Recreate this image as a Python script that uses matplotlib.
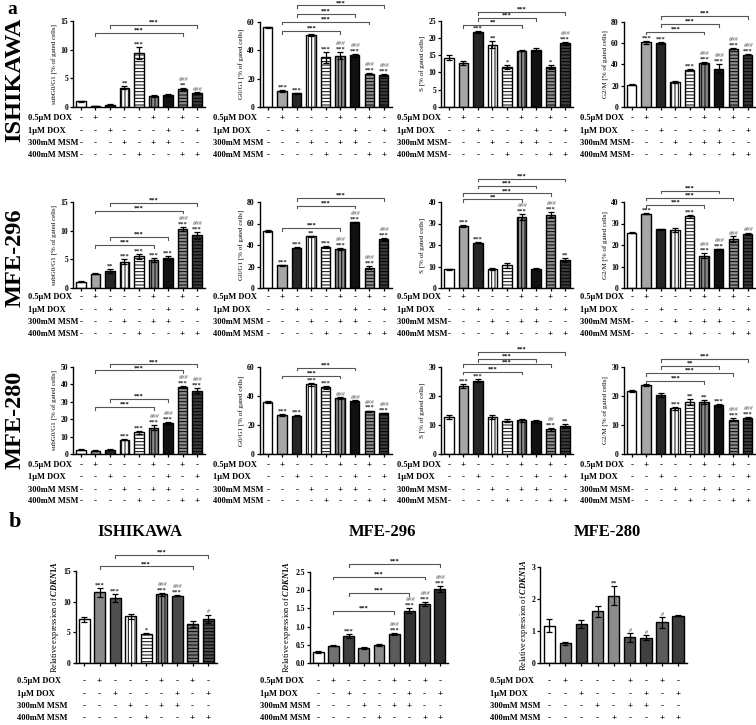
import matplotlib
matplotlib.use('Agg')
import matplotlib.pyplot as plt
from matplotlib.transforms import blended_transform_factory
import numpy as np

plt.rcParams['font.family'] = 'Liberation Serif'
plt.rcParams['font.weight'] = 'bold'
plt.rcParams['hatch.linewidth'] = 0.7
plt.rcParams['mathtext.fontset'] = 'custom'
plt.rcParams['mathtext.it'] = 'Liberation Serif:italic:bold'
plt.rcParams['mathtext.rm'] = 'Liberation Serif:bold'

W, H = 756, 725

# treatment table, 1 = "+", 0 = "-"
row_names = ['0.5\u00b5M DOX', '1\u00b5M DOX', '300mM MSM', '400mM MSM']
dox05 = [0, 1, 0, 0, 0, 1, 0, 1, 0]
dox1 = [0, 0, 1, 0, 0, 0, 1, 0, 1]
msm300 = [0, 0, 0, 1, 0, 1, 1, 0, 0]
msm400 = [0, 0, 0, 0, 1, 0, 0, 1, 1]
treatments = [dox05, dox1, msm300, msm400]

cell_lines = ['ISHIKAWA', 'MFE-296', 'MFE-280']
phase_labels = ['subG0/G1 [% of gated cells]', 'G0/G1 [% of gated cells]',
                'S [% of gated cells]', 'G2/M [% of gated cells]']

# ---- a: ISHIKAWA ----
ishi_sub = [1.0, 0.2, 0.4, 3.4, 9.4, 1.9, 2.1, 3.2, 2.4]
ishi_sub_err = [0.1, 0.05, 0.1, 0.2, 1.0, 0.15, 0.2, 0.15, 0.2]
ishi_sub_stars = ['', '', '', '**', '***', '', '', '**', '']
ishi_sub_hash = ['', '', '', '', '', '', '', '###', '###']
ishi_sub_brk = [(1, 7, '***', 0.86), (2, 8, '***', 0.95)]

ishi_g0 = [56, 11.5, 9.5, 50.5, 35, 36, 36.5, 23.5, 22.5]
ishi_g0_err = [0.5, 0.6, 0.5, 0.5, 4, 2.5, 1, 0.5, 0.6]
ishi_g0_stars = ['', '***', '***', '', '***', '***', '***', '***', '***']
ishi_g0_hash = ['', '', '', '', '', '###', '###', '###', '###']
ishi_g0_brk = [(1, 5, '***', 0.89), (1, 7, '***', 1.0), (2, 6, '***', 1.09), (2, 8, '***', 1.19)]

ishi_s = [14.3, 12.8, 21.8, 18.1, 11.7, 16.3, 16.6, 11.6, 18.4]
ishi_s_err = [0.7, 0.5, 0.3, 0.9, 0.6, 0.15, 0.4, 0.5, 0.5]
ishi_s_stars = ['', '', '***', '**', '*', '', '', '*', '***']
ishi_s_hash = ['', '', '', '', '', '', '', '', '###']
ishi_s_brk = [(1, 5, '**', 0.95), (2, 6, '***', 1.03), (2, 8, '***', 1.10)]

ishi_g2 = [21, 60.5, 60, 23.5, 35, 41.5, 36, 54.5, 49]
ishi_g2_err = [0.5, 1.5, 1, 1, 0.5, 1, 4, 0.5, 0.5]
ishi_g2_stars = ['', '***', '***', '', '***', '***', '***', '***', '***']
ishi_g2_hash = ['', '', '', '', '', '###', '###', '###', '###']
ishi_g2_brk = [(1, 5, '***', 0.88), (2, 6, '***', 0.97), (2, 8, '***', 1.067)]

# ---- a: MFE-296 ----
m296_sub = [1.1, 2.5, 3.0, 4.6, 5.5, 4.9, 5.2, 10.3, 9.2]
m296_sub_err = [0.1, 0.1, 0.3, 0.4, 0.4, 0.4, 0.3, 0.3, 0.6]
m296_sub_stars = ['', '', '**', '***', '***', '***', '***', '***', '***']
m296_sub_hash = ['', '', '', '', '', '', '', '###', '###']
m296_sub_brk = [(1, 5, '***', 0.5), (2, 6, '***', 0.59), (1, 7, '***', 0.90), (2, 8, '***', 0.985)]

m296_g0 = [53, 21, 37.5, 48, 38.5, 36, 61, 19, 45.5]
m296_g0_err = [0.5, 0.7, 0.6, 0.5, 1, 1, 0.6, 1.5, 1]
m296_g0_stars = ['', '***', '***', '**', '***', '***', '***', '***', '***']
m296_g0_hash = ['', '', '', '', '', '###', '###', '###', '###']
m296_g0_brk = [(1, 5, '***', 0.694), (2, 6, '***', 0.957), (2, 8, '***', 1.043)]

m296_s = [8.7, 28.8, 21, 9, 10.5, 33, 9, 34, 13]
m296_s_err = [0.3, 0.4, 0.3, 0.4, 1, 1.2, 0.3, 1.2, 1]
m296_s_stars = ['', '***', '***', '', '', '***', '', '***', '**']
m296_s_hash = ['', '', '', '', '', '###', '', '###', '']
m296_s_brk = [(1, 5, '**', 1.03), (1, 7, '***', 1.10), (2, 6, '***', 1.19), (2, 8, '***', 1.27)]

m296_g2 = [25.8, 34.5, 27.3, 27, 33.3, 15, 18, 22.8, 25.2]
m296_g2_err = [0.3, 0.3, 0.3, 1, 0.8, 1.2, 0.3, 1.2, 0.5]
m296_g2_stars = ['', '***', '', '', '***', '***', '***', '', '']
m296_g2_hash = ['', '', '', '', '', '###', '###', '###', '###']
m296_g2_brk = [(1, 5, '***', 0.965), (1, 7, '***', 1.05), (2, 6, '***', 1.13)]

# ---- a: MFE-280 ----
m280_sub = [2.5, 2.0, 2.5, 8.2, 12.5, 15.2, 17.8, 38.5, 36.3]
m280_sub_err = [0.3, 0.2, 0.3, 0.4, 0.8, 1.5, 0.5, 0.7, 1.5]
m280_sub_stars = ['', '', '', '***', '***', '***', '***', '***', '***']
m280_sub_hash = ['', '', '', '', '', '###', '###', '###', '###']
m280_sub_brk = [(1, 5, '***', 0.54), (2, 6, '***', 0.63), (1, 7, '***', 0.96), (2, 8, '***', 1.03)]

m280_g0 = [36, 27, 26.5, 48, 46, 38.5, 36.5, 29.5, 28]
m280_g0_err = [0.5, 0.6, 0.5, 1.2, 1, 0.6, 0.5, 0.5, 0.5]
m280_g0_stars = ['', '***', '***', '***', '***', '', '', '***', '***']
m280_g0_hash = ['', '', '', '', '', '###', '###', '###', '###']
m280_g0_brk = [(1, 5, '***', 0.90), (2, 6, '***', 0.99)]

m280_s = [12.8, 23.5, 25.3, 12.8, 11.5, 11.7, 11.3, 8.5, 9.7]
m280_s_err = [0.7, 0.6, 0.6, 0.8, 0.5, 0.5, 0.5, 0.4, 0.5]
m280_s_stars = ['', '***', '***', '', '', '', '', '***', '**']
m280_s_hash = ['', '', '', '', '', '', '', '##', '']
m280_s_brk = [(1, 5, '***', 0.946), (1, 7, '***', 1.03), (2, 6, '***', 1.09), (2, 8, '***', 1.17)]

m280_g2 = [21.8, 23.8, 20.3, 15.7, 17.9, 17.9, 16.8, 11.8, 12.4]
m280_g2_err = [0.3, 0.4, 0.8, 0.6, 1.1, 0.6, 0.6, 0.5, 0.3]
m280_g2_stars = ['', '', '', '***', '**', '**', '***', '***', '***']
m280_g2_hash = ['', '', '', '', '', '', '', '###', '###']
m280_g2_brk = [(1, 5, '***', 0.84), (1, 7, '***', 0.93), (2, 6, '**', 1.01), (2, 8, '***', 1.09)]

# ---- b: CDKN1A ----
cdk_ishi = [7.1, 11.5, 10.6, 7.6, 4.8, 11.2, 11.0, 6.3, 7.2]
cdk_ishi_err = [0.4, 0.7, 0.6, 0.4, 0.15, 0.2, 0.15, 0.5, 0.7]
cdk_ishi_stars = ['', '***', '***', '', '*', '***', '***', '', '']
cdk_ishi_hash = ['', '', '', '', '', '###', '###', '', '#']
cdk_ishi_brk = [(1, 7, '***', 1.05), (2, 8, '***', 1.17)]

cdk_296 = [0.3, 0.48, 0.75, 0.42, 0.49, 0.79, 1.43, 1.62, 2.03]
cdk_296_err = [0.02, 0.02, 0.06, 0.03, 0.02, 0.03, 0.07, 0.05, 0.09]
cdk_296_stars = ['', '', '***', '', '', '***', '***', '***', '***']
cdk_296_hash = ['', '', '', '', '', '###', '###', '###', '###']
cdk_296_brk = [(1, 5, '***', 0.57), (2, 6, '***', 0.766), (1, 7, '***', 0.95), (2, 8, '***', 1.09)]

cdk_280 = [1.17, 0.62, 1.22, 1.62, 2.1, 0.8, 0.79, 1.27, 1.48]
cdk_280_err = [0.2, 0.05, 0.12, 0.17, 0.3, 0.13, 0.07, 0.17, 0.02]
cdk_280_stars = ['', '', '', '', '**', '', '', '', '']
cdk_280_hash = ['', '', '', '', '', '#', '#', '#', '']
cdk_280_brk = []

# bar looks (face colour, hatch)
style_a = [('white', ''), ('#a6a6a6', ''), ('#262626', ''), ('white', '|||||'),
           ('white', '-----'), ('#8c8c8c', '|||||'), ('#111111', ''),
           ('#8c8c8c', '-----'), ('#3a3a3a', '-----')]
style_b1 = [('white', ''), ('#8a8a8a', ''), ('#505050', ''), ('white', '|||||'),
            ('white', '-----'), ('#8a8a8a', '|||||'), ('#4a4a4a', ''),
            ('#7a7a7a', '-----'), ('#4a4a4a', '-----')]
style_b2 = [('white', ''), ('#707070', ''), ('#404040', ''), ('#7c7c7c', ''),
            ('#8c8c8c', ''), ('#5a5a5a', ''), ('#333333', ''), ('#4c4c4c', ''),
            ('#2e2e2e', '')]
style_b3 = [('white', ''), ('#707070', ''), ('#404040', ''), ('#7c7c7c', ''),
            ('#8c8c8c', ''), ('#505050', ''), ('#404040', ''), ('#5c5c5c', ''),
            ('#3c3c3c', '')]

fig = plt.figure(figsize=(W / 100, H / 100), dpi=100)


def px_axes(left, top, right, bottom):
    return fig.add_axes([left / W, 1 - bottom / H, (right - left) / W, (bottom - top) / H])


def draw_panel(ax, means, errs, stars, hashes, brks, styles, ymax, ystep, ylabel,
               width=0.65, ylabel_size=5):
    x = np.arange(len(means))
    for k in range(len(means)):
        fc, hatch = styles[k]
        ax.bar(x[k], means[k], width=width, color=fc, edgecolor='black',
               hatch=hatch, linewidth=1.0, zorder=2)
    ax.errorbar(x, means, yerr=errs, fmt='none', ecolor='black', elinewidth=0.9,
                capsize=2, capthick=0.9, zorder=3)
    for k in range(len(means)):
        top = means[k] + errs[k]
        off = 0.3
        if stars[k]:
            ax.annotate(stars[k], (k, top), xytext=(0, off), textcoords='offset points',
                        ha='center', va='bottom', fontsize=4.6, color='#222222')
            off += 4.0
        if hashes[k]:
            ax.annotate(hashes[k], (k, top), xytext=(0, off), textcoords='offset points',
                        ha='center', va='bottom', fontsize=4.6, color='#808080',
                        style='italic')
    trans = blended_transform_factory(ax.transData, ax.transAxes)
    for i, j, lab, yf in brks:
        ax.plot([i, i, j, j], [yf - 0.03, yf, yf, yf - 0.03], transform=trans,
                color='#555555', lw=0.8, clip_on=False)
        ax.text((i + j) / 2, yf + 0.003, lab, transform=trans, ha='center',
                va='bottom', fontsize=4.6)
    ax.set_xlim(-0.55, len(means) - 0.45)
    ax.set_ylim(0, ymax)
    ax.set_yticks(np.arange(0, ymax + ystep / 2, ystep))
    ax.set_xticks(x)
    ax.set_xticklabels([])
    ax.spines['top'].set_visible(False)
    ax.spines['right'].set_visible(False)
    for sp in ['left', 'bottom']:
        ax.spines[sp].set_linewidth(1.0)
    ax.tick_params(axis='both', length=2.5, width=0.9, pad=1, labelsize=5.5)
    ax.set_ylabel(ylabel, fontsize=ylabel_size, labelpad=1.5)


def draw_table(ax, label_x, rows_y, size=6.5):
    trans = blended_transform_factory(ax.transData, fig.transFigure)
    for name, flags, ypx in zip(row_names, treatments, rows_y):
        y = 1 - ypx / H
        fig.text(label_x / W, y, name, ha='left', va='center', fontsize=6)
        for k, f in enumerate(flags):
            ax.text(k, y, '+' if f else '-', transform=trans, ha='center',
                    va='center', fontsize=size)


# ---- panel a layout ----
a_data = [
    [(ishi_sub, ishi_sub_err, ishi_sub_stars, ishi_sub_hash, ishi_sub_brk, 15, 5),
     (ishi_g0, ishi_g0_err, ishi_g0_stars, ishi_g0_hash, ishi_g0_brk, 60, 20),
     (ishi_s, ishi_s_err, ishi_s_stars, ishi_s_hash, ishi_s_brk, 25, 5),
     (ishi_g2, ishi_g2_err, ishi_g2_stars, ishi_g2_hash, ishi_g2_brk, 80, 20)],
    [(m296_sub, m296_sub_err, m296_sub_stars, m296_sub_hash, m296_sub_brk, 15, 5),
     (m296_g0, m296_g0_err, m296_g0_stars, m296_g0_hash, m296_g0_brk, 80, 20),
     (m296_s, m296_s_err, m296_s_stars, m296_s_hash, m296_s_brk, 40, 10),
     (m296_g2, m296_g2_err, m296_g2_stars, m296_g2_hash, m296_g2_brk, 40, 10)],
    [(m280_sub, m280_sub_err, m280_sub_stars, m280_sub_hash, m280_sub_brk, 50, 10),
     (m280_g0, m280_g0_err, m280_g0_stars, m280_g0_hash, m280_g0_brk, 60, 20),
     (m280_s, m280_s_err, m280_s_stars, m280_s_hash, m280_s_brk, 30, 10),
     (m280_g2, m280_g2_err, m280_g2_stars, m280_g2_hash, m280_g2_brk, 30, 10)],
]
a_left = [73, 259.7, 441, 623.7]
a_tops = [[21, 21.7, 20.7, 21.7], [202, 202, 202, 202], [367, 367, 367, 367]]
a_bottom = [107, 288, 454]
a_label_x = [28, 213, 397, 580]
a_rows_y = [[118, 131, 143, 155], [297, 310, 322, 334], [465, 477, 490, 501]]
row_label_y = [80, 258, 420]

for r in range(3):
    for c in range(4):
        means, errs, stars, hashes, brks, ymax, ystep = a_data[r][c]
        ax = px_axes(a_left[c], a_tops[r][c], a_left[c] + 132, a_bottom[r])
        draw_panel(ax, means, errs, stars, hashes, brks, style_a, ymax, ystep, phase_labels[c])
        draw_table(ax, a_label_x[c], a_rows_y[r])
    fig.text(15 / W, 1 - row_label_y[r] / H, cell_lines[r], rotation=90, ha='center',
             va='center', fontsize=17.5)

# ---- panel b ----
b_data = [(cdk_ishi, cdk_ishi_err, cdk_ishi_stars, cdk_ishi_hash, cdk_ishi_brk, 15, 5, style_b1),
          (cdk_296, cdk_296_err, cdk_296_stars, cdk_296_hash, cdk_296_brk, 2.5, 0.5, style_b2),
          (cdk_280, cdk_280_err, cdk_280_stars, cdk_280_hash, cdk_280_brk, 3, 1, style_b3)]
b_box = [(75.5, 571, 216.6), (309.9, 572, 448.2), (540.4, 567, 686.9)]
b_label_x = [17, 260, 490]
b_title_x = [140, 383, 607]
b_rows_y = [681, 694, 706, 718]

for c in range(3):
    means, errs, stars, hashes, brks, ymax, ystep, sty = b_data[c]
    left, top, right = b_box[c]
    ax = px_axes(left, top, right, 663)
    draw_panel(ax, means, errs, stars, hashes, brks, sty, ymax, ystep,
               r'Relative expression of $\it{CDKN1A}$', width=0.71, ylabel_size=6)
    if ystep < 1:
        ax.set_yticklabels(['%.1f' % v for v in np.arange(0, ymax + ystep / 2, ystep)])
    draw_table(ax, b_label_x[c], b_rows_y)
    fig.text(b_title_x[c] / W, 1 - 532 / H, cell_lines[c], ha='center', va='center', fontsize=12)

fig.text(12 / W, 1 - 10 / H, 'a', ha='center', va='center', fontsize=14)
fig.text(15 / W, 1 - 522 / H, 'b', ha='center', va='center', fontsize=16)

fig.savefig('out.png', dpi=100)
